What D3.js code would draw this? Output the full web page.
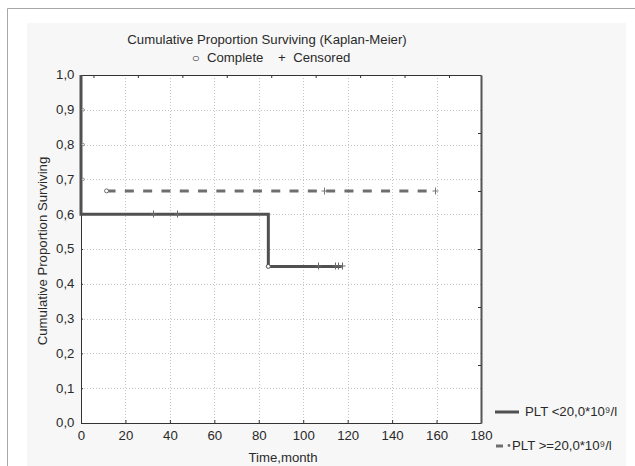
<!DOCTYPE html>
<html><head><meta charset="utf-8">
<script src="https://cdn.jsdelivr.net/npm/d3@7"></script>
<style>
html,body{margin:0;padding:0;background:#fff;}
svg{display:block;}
text{font-family:"Liberation Sans",Arial,sans-serif;fill:#2a2a2a;}
</style></head>
<body>
<svg id="c" width="635" height="466"></svg>
<script>
// ---- data ----
const xTicks = [0,20,40,60,80,100,120,140,160,180];
const yTicks = [0,0.1,0.2,0.3,0.4,0.5,0.6,0.7,0.8,0.9,1.0];
const topTicks = [5.6,25.6,45.6,65.6,85.6,105.6,125.6,145.6,165.6];
const rightTicks = [1/6,2/6,3/6,4/6,5/6];
const seriesNames = ["PLT <20,0*10\u2079/l", "PLT >=20,0*10\u2079/l"];
// series 1 (solid) step curve
const s1Time = [0, 0, 84.3, 84.3, 117.3];
const s1Surv = [1.0, 0.6, 0.6, 0.45, 0.45];
const s1CompleteTime = [0, 0, 0, 84.3];
const s1CompleteSurv = [0.9, 0.8, 0.7, 0.45];
const s1CensTime = [32.5, 43.3, 106.5, 114.3, 115.8, 117.3];
const s1CensSurv = [0.6, 0.6, 0.45, 0.45, 0.45, 0.45];
// series 2 (dashed)
const s2Time = [11.5, 159.3];
const s2Surv = [0.667, 0.667];
const s2CompleteTime = [11.5];
const s2CompleteSurv = [0.667];
const s2CensTime = [109.5, 159.3];
const s2CensSurv = [0.667, 0.667];

// ---- layout ----
const svg = d3.select("#c");
const L = 81, R = 481, T = 75, B = 423;
const x = d3.scaleLinear().domain([0,180]).range([L,R]);
const y = d3.scaleLinear().domain([0,1]).range([B,T]);
const c1 = "#505050", c2 = "#6e6e6e";
const FS = 12, SX = 1.1;

// outer page border
svg.append("line").attr("x1",7.5).attr("x2",635).attr("y1",8.5).attr("y2",8.5).attr("stroke","#a8a8a8");
svg.append("line").attr("x1",7.5).attr("x2",7.5).attr("y1",8.5).attr("y2",466).attr("stroke","#a8a8a8");
// gray panel
svg.append("rect").attr("x",27).attr("y",23).attr("width",599).attr("height",443).attr("fill","#f7f7f7");
// plot area
svg.append("rect").attr("x",L).attr("y",T).attr("width",R-L).attr("height",B-T).attr("fill","#fff");

// grid
const g = svg.append("g");
g.selectAll(".gx").data(xTicks.slice(1,-1)).join("line")
  .attr("x1",d=>Math.round(x(d))+0.5).attr("x2",d=>Math.round(x(d))+0.5).attr("y1",T).attr("y2",B)
  .attr("stroke","#c4c4c4").attr("stroke-dasharray","1,2");
g.selectAll(".gy").data(yTicks.slice(1,-1)).join("line")
  .attr("y1",d=>Math.round(y(d))+0.5).attr("y2",d=>Math.round(y(d))+0.5).attr("x1",L).attr("x2",R)
  .attr("stroke","#c4c4c4").attr("stroke-dasharray","1,2");

// axes (d3 axes, inward ticks)
const fmt = d3.format(".1f");
const yAx = svg.append("g").attr("transform",`translate(${L},0)`)
  .call(d3.axisLeft(y).tickValues(yTicks).tickSizeInner(-2).tickSizeOuter(0).tickPadding(6).tickFormat(d=>fmt(d).replace(".",",")));
const xAx = svg.append("g").attr("transform",`translate(0,${B})`)
  .call(d3.axisBottom(x).tickValues(xTicks).tickSizeInner(-3).tickSizeOuter(0).tickPadding(8));
const tAx = svg.append("g").attr("transform",`translate(0,${T})`)
  .call(d3.axisTop(x).tickValues(topTicks).tickSizeInner(-3).tickSizeOuter(0).tickFormat(""));
const rAx = svg.append("g").attr("transform",`translate(${R},0)`)
  .call(d3.axisRight(y).tickValues(rightTicks).tickSizeInner(-3).tickSizeOuter(0).tickFormat(""));
[yAx,xAx,tAx,rAx].forEach(a=>{
  a.select(".domain").attr("stroke","#333");
  a.selectAll(".tick line").attr("stroke","#333");
  a.selectAll("text").attr("font-family","Liberation Sans, Arial, sans-serif").attr("font-size",FS)
    .attr("fill","#2a2a2a").attr("transform",`scale(${SX},1)`);
});
rAx.select(".domain").attr("stroke","#555").attr("stroke-width",2);

// series lines
const line = d3.line().x(d=>x(d[0])).y(d=>y(d[1]));
svg.append("path").datum(s1Time.map((t,i)=>[t,s1Surv[i]])).attr("d",line)
  .attr("fill","none").attr("stroke",c1).attr("stroke-width",3);
svg.append("path").datum(s2Time.map((t,i)=>[t,s2Surv[i]])).attr("d",line)
  .attr("fill","none").attr("stroke",c2).attr("stroke-width",3).attr("stroke-dasharray","9,9.3");

// markers
function circles(ts,ss,col,r,dx){
  svg.append("g").selectAll("circle").data(ts.map((t,i)=>[t,ss[i]])).join("circle")
    .attr("cx",d=>x(d[0])+dx).attr("cy",d=>y(d[1])).attr("r",r)
    .attr("fill","#fff").attr("stroke",col).attr("stroke-width",1);
}
function pluses(ts,ss,col){
  svg.append("g").selectAll("path").data(ts.map((t,i)=>[t,ss[i]])).join("path")
    .attr("d",d=>{const cx=Math.round(x(d[0]))+0.5,cy=Math.round(y(d[1]));return `M${cx-3},${cy}H${cx+3}M${cx},${cy-3.5}V${cy+3.5}`;})
    .attr("stroke",col).attr("stroke-width",1).attr("fill","none");
}
circles(s1CompleteTime.slice(0,3),s1CompleteSurv.slice(0,3),"#888",1.2,2.2);
circles(s1CompleteTime.slice(3),s1CompleteSurv.slice(3),c1,2,0);
circles(s2CompleteTime,s2CompleteSurv,c2,2,0);
pluses(s1CensTime,s1CensSurv,"#666");
pluses(s2CensTime,s2CensSurv,"#777");

// titles
function label(px,py,str,extra){
  return svg.append("text").attr("transform",`translate(${px},${py}) ${extra||""} scale(${SX},1)`)
    .attr("text-anchor","middle").attr("font-size",FS).attr("xml:space","preserve").text(str);
}
label(267,44,"Cumulative Proportion Surviving (Kaplan-Meier)");
label(271,62,"\u25CB  Complete    +  Censored");
label(283,462,"Time,month");
label(47,251,"Cumulative Proportion Surviving","rotate(-90)");

// legend
const lg = svg.append("g");
lg.append("line").attr("x1",495).attr("x2",519).attr("y1",412).attr("y2",412).attr("stroke",c1).attr("stroke-width",3);
lg.append("text").attr("transform",`translate(525,416) scale(${SX},1)`).attr("font-size",FS).text(seriesNames[0]);
lg.append("line").attr("x1",496).attr("x2",503).attr("y1",446).attr("y2",446).attr("stroke",c2).attr("stroke-width",3);
lg.append("circle").attr("cx",509).attr("cy",445.5).attr("r",1.4).attr("fill",c2);
lg.append("text").attr("transform",`translate(512,450) scale(${SX},1)`).attr("font-size",FS).text(seriesNames[1]);
</script>
</body></html>
